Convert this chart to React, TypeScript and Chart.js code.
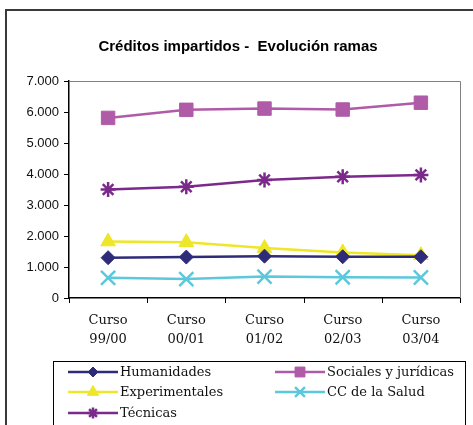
import React, { useEffect, useRef } from "react";
import { Chart, registerables } from "chart.js";
import { drawPoint } from "chart.js/helpers";

Chart.register(...registerables);

const categories: string[][] = [
  ["Curso", "99/00"],
  ["Curso", "00/01"],
  ["Curso", "01/02"],
  ["Curso", "02/03"],
  ["Curso", "03/04"],
];
const humanidades = [1300, 1320, 1350, 1330, 1330];
const sociales = [5810, 6070, 6110, 6080, 6300];
const experimentales = [1820, 1800, 1610, 1470, 1380];
const ccSalud = [650, 610, 690, 670, 660];
const tecnicas = [3500, 3590, 3810, 3910, 3970];
const yTicks = [0, 1000, 2000, 3000, 4000, 5000, 6000, 7000];

const TITLE = "Créditos impartidos -  Evolución ramas";

const fmt = (v: number) => {
  const s = String(Math.round(v));
  return s.replace(/\B(?=(\d{3})+(?!\d))/g, ".");
};

export default function App() {
  const ref = useRef<HTMLCanvasElement | null>(null);
  useEffect(() => {
    if (!ref.current) return;
    const serif = "'DejaVu Serif', serif";
    const sans = "'Liberation Sans', Arial, sans-serif";
    const mk = (label: string, data: number[], color: string, style: string, radius: number, bw: number, lr: number) => ({
      label,
      data,
      borderColor: color,
      backgroundColor: color,
      pointBackgroundColor: color,
      pointBorderColor: color,
      pointStyle: style,
      pointRadius: radius,
      pointBorderWidth: bw,
      borderWidth: 2.5,
      tension: 0,
      legendRadius: lr,
    });
    const datasets: any[] = [
      mk("Humanidades", humanidades, "#2E2B78", "rectRot", 7, 1, 5),
      mk("Sociales y jurídicas", sociales, "#B05BA8", "rect", 9.5, 1, 7),
      mk("Experimentales", experimentales, "#EEE629", "triangle", 8.5, 1, 6.5),
      mk("CC de la Salud", ccSalud, "#5CC8DB", "crossRot", 10, 2.5, 7),
      mk("Técnicas", tecnicas, "#7B2A8B", "star", 7.5, 2.5, 5.5),
    ];

    const deco = {
      id: "deco",
      afterDraw(chart: any) {
        const ctx = chart.ctx as CanvasRenderingContext2D;
        const ca = chart.chartArea;
        const xs = chart.scales.x;
        ctx.save();
        // outer frame
        ctx.strokeStyle = "#3a3a3a";
        ctx.lineWidth = 2;
        ctx.strokeRect(6, 10, 500, 450);
        // plot frame top/right
        ctx.strokeStyle = "#808080";
        ctx.lineWidth = 1;
        ctx.beginPath();
        ctx.moveTo(ca.left, ca.top + 0.5);
        ctx.lineTo(ca.right + 0.5, ca.top + 0.5);
        ctx.lineTo(ca.right + 0.5, ca.bottom);
        ctx.stroke();
        // category boundary tick marks
        const n = categories.length;
        const step = n > 1 ? xs.getPixelForValue(1) - xs.getPixelForValue(0) : ca.right - ca.left;
        ctx.strokeStyle = "#000";
        ctx.lineWidth = 1;
        ctx.beginPath();
        for (let i = 0; i <= n; i++) {
          const px = Math.round(xs.getPixelForValue(0) - step / 2 + i * step) + 0.5;
          ctx.moveTo(px, ca.bottom);
          ctx.lineTo(px, ca.bottom + 5);
        }
        ctx.stroke();
        // title
        ctx.fillStyle = "#000";
        ctx.font = "bold 15px " + sans;
        ctx.textAlign = "center";
        ctx.textBaseline = "middle";
        ctx.fillText(TITLE, 238, 47);
        // legend box
        ctx.strokeStyle = "#000";
        ctx.lineWidth = 1;
        ctx.strokeRect(53.5, 361.5, 412, 80);
        const pos = [
          [68, 372],
          [275, 372],
          [68, 392],
          [275, 392],
          [68, 413],
        ];
        ctx.font = "13px " + serif;
        ctx.textAlign = "left";
        chart.data.datasets.forEach((ds: any, i: number) => {
          const [x, y] = pos[i];
          ctx.strokeStyle = ds.borderColor;
          ctx.lineWidth = 2.5;
          ctx.beginPath();
          ctx.moveTo(x, y);
          ctx.lineTo(x + 50, y);
          ctx.stroke();
          ctx.fillStyle = ds.backgroundColor;
          ctx.strokeStyle = ds.borderColor;
          ctx.lineWidth = ds.pointBorderWidth;
          drawPoint(ctx, { pointStyle: ds.pointStyle, radius: ds.legendRadius, borderWidth: ds.pointBorderWidth, rotation: 0 } as any, x + 25, y);
          ctx.fillStyle = "#111";
          ctx.fillText(ds.label, x + 52, y + 1);
        });
        ctx.restore();
      },
    };

    const chart = new Chart(ref.current, {
      type: "line",
      data: { labels: categories as any, datasets },
      options: {
        animation: false,
        responsive: false,
        maintainAspectRatio: false,
        layout: { padding: { left: 0, top: 81, right: 13, bottom: 77 } },
        plugins: { legend: { display: false }, title: { display: false }, tooltip: { enabled: false } },
        scales: {
          x: {
            offset: true,
            grid: { display: false },
            border: { display: true, color: "#000", width: 1.5 },
            ticks: { color: "#111", font: { family: serif, size: 13, lineHeight: 1.4 }, padding: 6, maxRotation: 0, autoSkip: false },
            afterFit(scale: any) {
              scale.height = 50;
            },
          },
          y: {
            min: 0,
            max: 7000,
            afterBuildTicks(scale: any) {
              scale.ticks = yTicks.map((v) => ({ value: v }));
            },
            grid: { display: true, drawOnChartArea: false, drawTicks: true, tickLength: 5, color: "#000" },
            border: { display: true, color: "#000", width: 1.5 },
            ticks: { color: "#111", font: { family: sans, size: 13 }, padding: 5, callback: (v: any) => fmt(Number(v)) },
            afterFit(scale: any) {
              scale.width = 69;
            },
          },
        },
      },
      plugins: [deco],
    });
    return () => chart.destroy();
  }, []);
  return (
    <div style={{ position: "fixed", left: 0, top: 0, width: 473, height: 425, background: "#fff" }}>
      <canvas ref={ref} width={473} height={425} style={{ display: "block" }} />
    </div>
  );
}
